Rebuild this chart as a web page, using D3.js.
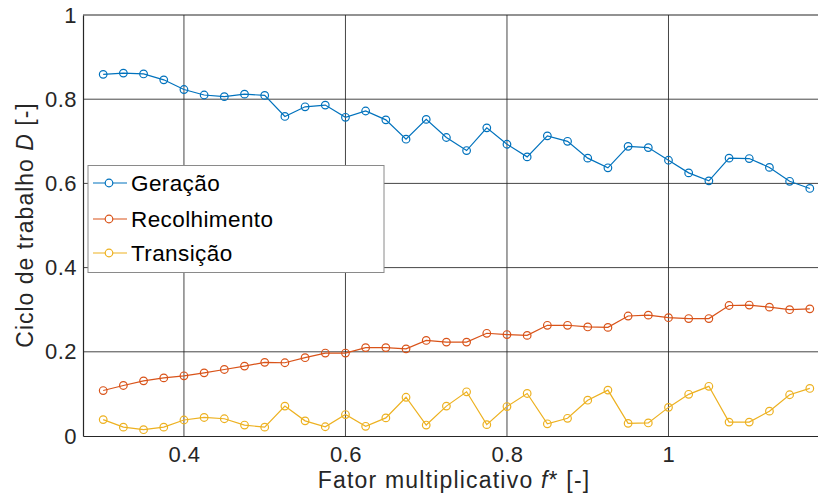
<!DOCTYPE html>
<html><head><meta charset="utf-8">
<script src="https://cdn.jsdelivr.net/npm/d3@7"></script>
<style>
body{margin:0;background:#fff;}
text{font-family:"Liberation Sans",Arial,Helvetica,sans-serif;}
</style></head>
<body><svg id="c" width="818" height="494"></svg>
<script>
const fValues = [0.3,0.325,0.35,0.375,0.4,0.425,0.45,0.475,0.5,0.525,0.55,0.575,0.6,0.625,0.65,0.675,0.7,0.725,0.75,0.775,0.8,0.825,0.85,0.875,0.9,0.925,0.95,0.975,1.0,1.025,1.05,1.075,1.1,1.125,1.15,1.175];
const geracao = [0.859,0.862,0.860,0.846,0.823,0.810,0.806,0.812,0.809,0.759,0.782,0.786,0.757,0.772,0.751,0.705,0.752,0.709,0.678,0.732,0.693,0.663,0.713,0.700,0.660,0.637,0.688,0.685,0.655,0.625,0.606,0.660,0.659,0.638,0.605,0.588];
const recolhimento = [0.108,0.120,0.131,0.138,0.143,0.150,0.158,0.166,0.175,0.174,0.186,0.197,0.197,0.210,0.210,0.207,0.227,0.223,0.223,0.244,0.241,0.239,0.263,0.263,0.259,0.258,0.285,0.287,0.281,0.279,0.279,0.310,0.311,0.306,0.300,0.302];
const transicao = [0.039,0.021,0.015,0.021,0.038,0.044,0.041,0.026,0.021,0.071,0.036,0.022,0.051,0.023,0.043,0.092,0.026,0.071,0.105,0.027,0.070,0.101,0.029,0.042,0.085,0.109,0.030,0.031,0.068,0.099,0.118,0.033,0.033,0.059,0.098,0.113];
const seriesNames = ["Geração","Recolhimento","Transição"];
const seriesColors = ["#0072BD","#D95319","#EDB120"];
const xTicks = [0.4,0.6,0.8,1.0];
const yTicks = [0,0.2,0.4,0.6,0.8,1];

const svg = d3.select("#c");
const L=83, T=15, B=436, R=830;
const x = d3.scaleLinear().domain([0.275,1.2]).range([L,R]);
const y = d3.scaleLinear().domain([0,1]).range([B,T]);
const axisColor="#262626";

// grid
const g = svg.append("g");
g.selectAll(".gx").data(xTicks).enter().append("line")
 .attr("x1",d=>x(d)).attr("x2",d=>x(d)).attr("y1",T).attr("y2",B)
 .attr("stroke","#262626").attr("stroke-opacity",0.85).attr("stroke-width",1);
g.selectAll(".gy").data(yTicks.filter(d=>d>0&&d<1)).enter().append("line")
 .attr("x1",L).attr("x2",R).attr("y1",d=>y(d)).attr("y2",d=>y(d))
 .attr("stroke","#262626").attr("stroke-opacity",0.85).attr("stroke-width",1);

// axes
const xAxis = d3.axisBottom(x).tickValues(xTicks).tickSize(0).tickPadding(7).tickFormat(d=>d3.format("")(+d.toFixed(1)));
const xa = svg.append("g").attr("transform",`translate(0,${B})`).call(xAxis);
xa.select(".domain").attr("stroke",axisColor).attr("stroke-width",1.2);
xa.selectAll("text").attr("font-size",22).attr("fill",axisColor).attr("dy","0.85em")
  .attr("letter-spacing",0.5).attr("font-family","Liberation Sans, Arial, sans-serif");
const yAxis = d3.axisLeft(y).tickValues(yTicks).tickSize(0).tickPadding(6).tickFormat(d=>d3.format("")(+d.toFixed(1)));
const ya = svg.append("g").attr("transform",`translate(${L},0)`).call(yAxis);
ya.select(".domain").attr("stroke",axisColor).attr("stroke-width",1.2);
ya.selectAll("text").attr("font-size",22).attr("fill",axisColor)
  .attr("letter-spacing",0.5).attr("font-family","Liberation Sans, Arial, sans-serif");
// top border
svg.append("line").attr("x1",L).attr("x2",R).attr("y1",T).attr("y2",T).attr("stroke",axisColor).attr("stroke-width",1.2);

// series
const allSeries=[geracao,recolhimento,transicao];
allSeries.forEach((vals,i)=>{
  const data = fValues.map((f,j)=>[f,vals[j]]);
  svg.append("path").datum(data)
    .attr("d",d3.line().x(d=>x(d[0])).y(d=>y(d[1])))
    .attr("fill","none").attr("stroke",seriesColors[i]).attr("stroke-width",1.2);
  svg.append("g").selectAll("circle").data(data).enter().append("circle")
    .attr("cx",d=>x(d[0])).attr("cy",d=>y(d[1])).attr("r",3.8)
    .attr("fill","none").attr("stroke",seriesColors[i]).attr("stroke-width",1.2);
});

// legend
const lg = svg.append("g");
lg.append("rect").attr("x",88).attr("y",165.5).attr("width",296).attr("height",107)
  .attr("fill","#fff").attr("stroke","#8a8a8a").attr("stroke-width",1);
const legY=[183,219,253];
seriesNames.forEach((n,i)=>{
  lg.append("line").attr("x1",93).attr("x2",127).attr("y1",legY[i]).attr("y2",legY[i])
    .attr("stroke",seriesColors[i]).attr("stroke-width",1.2);
  lg.append("circle").attr("cx",109).attr("cy",legY[i]).attr("r",3.8)
    .attr("fill","#fff").attr("stroke",seriesColors[i]).attr("stroke-width",1.2);
  lg.append("text").attr("x",131).attr("y",legY[i]).attr("dy","0.36em")
    .attr("font-size",22.5).attr("letter-spacing",0.4).attr("fill","#000").text(n);
});

// axis labels
const xl = svg.append("text").attr("x",454).attr("y",488).attr("text-anchor","middle")
  .attr("font-size",23).attr("letter-spacing",1.2).attr("fill",axisColor);
xl.append("tspan").text("Fator multiplicativo ");
xl.append("tspan").attr("font-style","italic").text("f");
xl.append("tspan").text("* [-]");
const yl = svg.append("text").attr("transform","translate(33,225) rotate(-90)").attr("text-anchor","middle")
  .attr("font-size",23).attr("letter-spacing",1.0).attr("fill",axisColor);
yl.append("tspan").text("Ciclo de trabalho ");
yl.append("tspan").attr("font-style","italic").text("D");
yl.append("tspan").text(" [-]");
</script></body></html>
